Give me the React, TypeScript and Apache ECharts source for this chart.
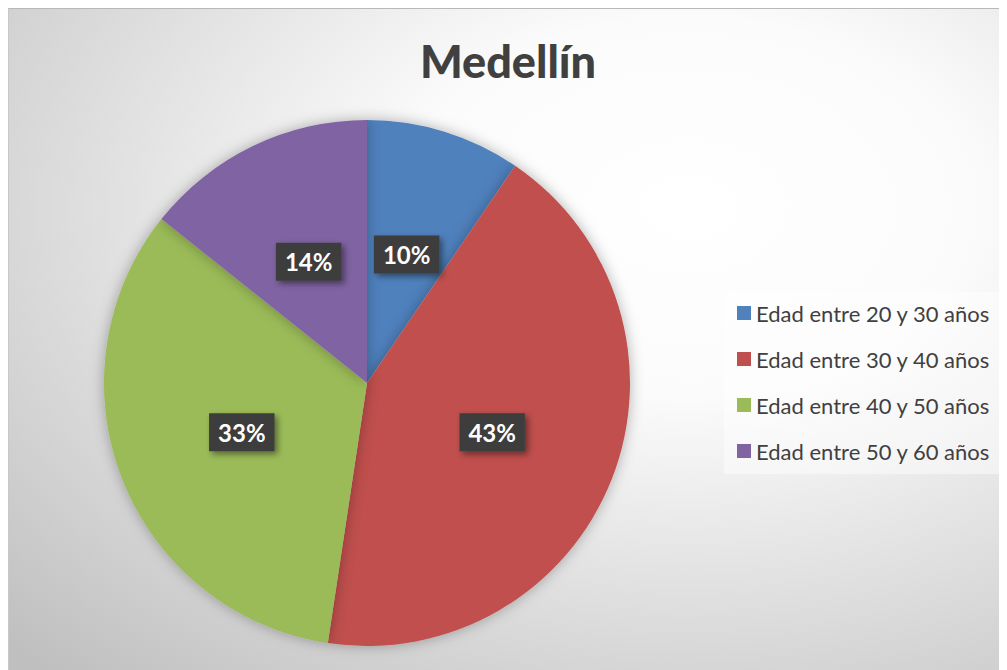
import React, { useEffect, useRef } from "react";
import * as echarts from "echarts";

const title = "Medellín";
const categories = [
  "Edad entre 20 y 30 años",
  "Edad entre 30 y 40 años",
  "Edad entre 40 y 50 años",
  "Edad entre 50 y 60 años",
];
const values = [2, 9, 7, 3];
const colors = ["#4f81bd", "#c0504d", "#9bbb59", "#8064a2"];

export default function App() {
  const ref = useRef<HTMLDivElement>(null);
  useEffect(() => {
    document.body.style.overflow = "hidden";
    const chart = echarts.init(ref.current!, null, { renderer: "svg" });
    chart.setOption({
      animation: false,
      backgroundColor: {
        type: "radial",
        x: 0.68,
        y: 0.3,
        r: 0.95,
        colorStops: [
          { offset: 0, color: "#ffffff" },
          { offset: 0.3, color: "#fbfbfb" },
          { offset: 1, color: "#bfbfbf" },
        ],
      },
      title: {
        text: title,
        left: "center",
        top: 24,
        textStyle: {
          fontFamily: "Lato",
          fontWeight: 900,
          fontSize: 45,
          color: "#404040",
        },
      },
      legend: {
        orient: "vertical",
        left: 715,
        top: 283,
        padding: [10, 12, 12, 13],
        itemGap: 24,
        itemWidth: 14,
        itemHeight: 14,
        icon: "rect",
        backgroundColor: "rgba(255,255,255,0.45)",
        textStyle: {
          fontFamily: "Lato",
          fontSize: 22,
          color: "#404040",
        },
        data: categories,
      },
      series: [
        {
          type: "pie",
          center: [358, 374],
          radius: 263,
          startAngle: 90,
          clockwise: true,
          color: colors,
          itemStyle: {
            shadowBlur: 14,
            shadowColor: "rgba(0,0,0,0.3)",
          },
          label: {
            position: "inside",
            formatter: (p: any) => Math.round(p.percent) + "%",
            fontFamily: "Lato",
            fontWeight: "bold",
            fontSize: 24,
            color: "#ffffff",
            backgroundColor: "#3e3e3e",
            padding: [8, 9, 6, 9],
            shadowBlur: 6,
            shadowOffsetX: 3,
            shadowOffsetY: 3,
            shadowColor: "rgba(0,0,0,0.45)",
          },
          labelLine: { show: false },
          emphasis: { disabled: true },
          data: categories.map((c, i) => ({ name: c, value: values[i] })),
        },
      ],
    });
    return () => chart.dispose();
  }, []);
  return (
    <div
      ref={ref}
      style={{
        width: 999,
        height: 662,
        boxSizing: "border-box",
        borderTop: "1px solid #b8b8b8",
        borderLeft: "1px solid #c8c8c8",
      }}
    />
  );
}
